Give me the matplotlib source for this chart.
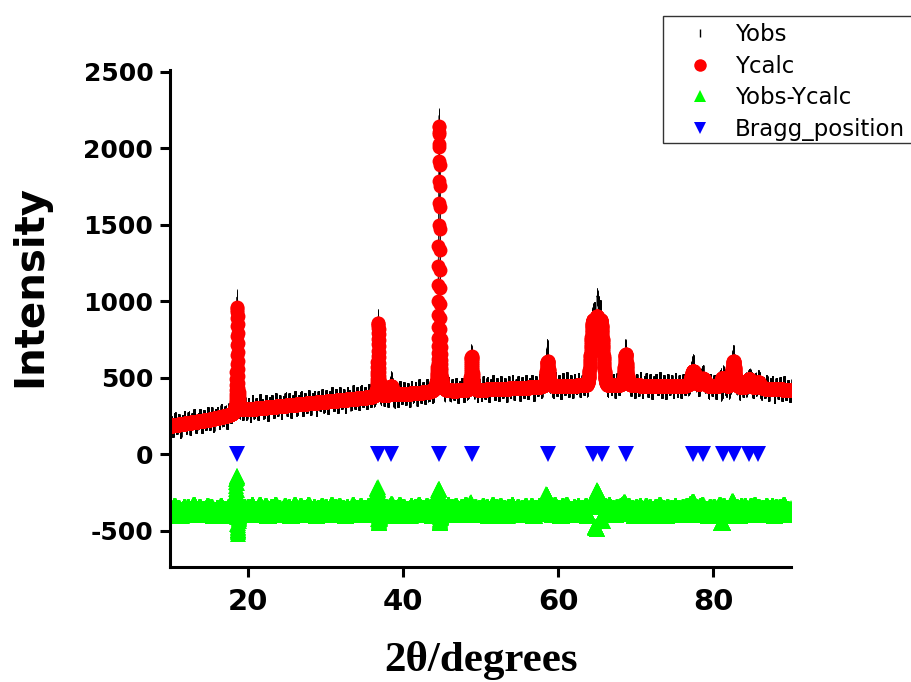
import numpy as np
import matplotlib.pyplot as plt
from matplotlib.lines import Line2D

plt.rcParams['font.family'] = 'DejaVu Sans'
plt.rcParams['axes.unicode_minus'] = False

# background points of the refinement (2theta, counts)
bg_theta = [10, 15, 18, 19.5, 25, 30, 35, 40, 45, 50, 55, 60, 65, 70, 75, 80, 85, 90]
bg_counts = [185, 225, 258, 290, 318, 343, 368, 392, 410, 420, 432, 445, 452, 448, 445, 440, 430, 420]

# calculated reflections: position, height above background, FWHM, lorentzian fraction
peak_pos = [18.67, 36.83, 38.50, 44.68, 48.85, 58.64, 64.45, 65.00, 65.55, 68.70,
            77.40, 78.70, 81.20, 82.60, 84.60, 85.80]
peak_height = [688, 480, 60, 1740, 220, 165, 375, 375, 375, 205,
               100, 50, 60, 170, 60, 40]
peak_fwhm = [0.18, 0.20, 0.30, 0.20, 0.25, 0.35, 0.6, 0.6, 0.6, 0.35,
             0.6, 0.6, 0.5, 0.45, 0.5, 0.5]
peak_eta = [0.5, 0.5, 0.5, 0.5, 0.5, 0.5, 0.0, 0.0, 0.0, 0.5,
            0.5, 0.5, 0.5, 0.5, 0.5, 0.5]

# the same reflections as measured
obs_pos = [18.635, 36.795, 38.50, 44.672, 48.83, 58.61, 64.45, 64.98, 65.55, 68.68,
           77.40, 78.70, 81.20, 82.58, 84.60, 85.80]
obs_height = [740, 510, 75, 1790, 240, 250, 380, 400, 370, 240,
              105, 50, 60, 210, 60, 40]

# Bragg reflection markers
bragg_pos = [18.67, 36.83, 38.50, 44.68, 48.85, 58.64, 64.52, 65.60, 68.68,
             77.40, 78.70, 81.20, 82.60, 84.60, 85.80]

# counting scatter of the measurement, one value per 0.25 deg step from 10 deg
scatter = [
    12, -25, 30, -8, 18, -35, 5, 28, -15, 22, -30, 10, 35, -20, 0, 25, -28, 15, -10, 32,
    -18, 26, -32, 8, 20, -22, 30, -12, 15, -35, 24, -6, 18, 20, 15, -20, 35, -20, 28, -15,
    22, -30, 38, -12, 15, -25, 40, 5, -18, 30, -35, 12, 25, -22, 36, -8, 20, -30, 14, 33,
    -16, 28, -34, 10, 38, -20, 6, 30, -28, 18, -10, 35, -24, 12, 26, -36, 20, -5, 32, -18,
    25, -30, 15, 38, -12, 22, -28, 34, -6, 18, -32, 28, 8, -22, 36, -15, 20, -26, 30, -10,
    18, -25, 32, -14, 24, -20, 25, 10, -20, 30, -18, 26, -30, 20, 30, -35, 20, -28, 35, -10,
    28, -22, 15, -34, 30, -8, 22, -30, 36, -15, 18, -26, 32, -12, 25, -32, 20, -10, 15, -20,
    30, -28, 15, 35, -20, 24, -10, 32, -30, 12, 28, -24, 36, -14, 20, 10, -15, 22, -30, 18,
    -20, 34, -8, 26, -32, 14, 38, -18, 22, -28, 30, -6, 16, -34, 28, -12, 36, -22, 10, 25,
    -30, 20, -15, 32, -25, 12, 30, -36, 18, -8, 28, -24, 22, 30, 10, -20, 25, -28, 34, -12,
    20, -32, 28, -10, 36, -22, 15, -30, 24, -6, 32, -26, 18, -14, 30, -34, 22, 40, 35, -146,
    110, 90, -60, -20, 30, -25, 35, -12, 20, -30, 26, -18, 32, 30, 10, -20, 28, -22, 15, -34,
    24, -16, 34, -28, 10, 30, -20, 26, -36, 14, 22, -10, 38, -26, 18, -32, 28, -6, 20, -24,
    30, -22, 16, -30, 26, -12, 34, -20, 40, 50, -30, 22, -26, 30, 36, -20, 14, -32, 28, -10,
    22, -30, 18, 35, -80, 30, -24, 15, -40, 20, 15, -30, 20, -34, 28, -14, 32, -26, 12, 30,
    -22, 35, -18, 26, -30, 20, -10, 34, -28, 16, 30, -36, 22, -12, 28, -24, 36, -18, 14, -30,
    20,
]
diff_offset = -370

# 2theta grid, 0.0125 deg step
theta = np.linspace(10, 90, 6401)


def pseudo_voigt(x, x0, h, w, eta):
    hw = w / 2
    lor = 1 / (1 + ((x - x0) / hw) ** 2)
    gau = np.exp(-np.log(2) * ((x - x0) / hw) ** 2)
    return h * (eta * lor + (1 - eta) * gau)


background = np.interp(theta, bg_theta, bg_counts)
ycalc = background.copy()
yobs = background + np.repeat(scatter, 20)[:len(theta)]
for i in range(len(peak_pos)):
    ycalc += pseudo_voigt(theta, peak_pos[i], peak_height[i], peak_fwhm[i], peak_eta[i])
    yobs += pseudo_voigt(theta, obs_pos[i], obs_height[i], peak_fwhm[i], peak_eta[i])

ydiff = yobs - ycalc + diff_offset

fig = plt.figure(figsize=(9.11, 6.82), dpi=100)
ax = fig.add_axes([170 / 911, 1 - 567 / 682, 621 / 911, 497 / 682])

ax.plot(theta, yobs, color='black', lw=0.6, marker='|', ms=12, mew=0.6)
ax.plot(theta, ycalc, 'o', color='#ff0000', ms=10, mew=0)
ax.plot(theta, ydiff, '^', color='#00ff00', ms=11, mew=0)
ax.plot(bragg_pos, np.zeros(len(bragg_pos)), 'v', color='#0000ff', ms=11, mew=0)

ax.set_xlim(10, 90)
ax.set_ylim(-737, 2510)
ax.set_xticks([20, 40, 60, 80])
ax.set_yticks([-500, 0, 500, 1000, 1500, 2000, 2500])

for side in ['top', 'right']:
    ax.spines[side].set_visible(False)
for side in ['left', 'bottom']:
    ax.spines[side].set_linewidth(2.2)

ax.tick_params(direction='out', length=7, width=2.2)
ax.tick_params(axis='y', labelsize=18, pad=5)
ax.tick_params(axis='x', labelsize=21, pad=8)
for lab in ax.get_xticklabels() + ax.get_yticklabels():
    lab.set_fontweight('bold')

fig.text(30 / 911, 1 - 286 / 682, 'Intensity', rotation=90, ha='center', va='center',
         fontsize=29, fontweight='bold')
fig.text(480.5 / 911, 11 / 682, '2θ/degrees', ha='center', va='baseline',
         family='Liberation Serif', fontsize=31, fontweight='bold')

handles = [
    Line2D([], [], ls='none', marker='|', color='black', ms=6, mew=1),
    Line2D([], [], ls='none', marker='o', color='#ff0000', ms=9, mew=0),
    Line2D([], [], ls='none', marker='^', color='#00ff00', ms=9, mew=0),
    Line2D([], [], ls='none', marker='v', color='#0000ff', ms=9, mew=0),
]
leg = fig.legend(handles, ['Yobs', 'Ycalc', 'Yobs-Ycalc', 'Bragg_position'],
                 loc='upper left', bbox_to_anchor=(663 / 911, 1 - 16 / 682),
                 bbox_transform=fig.transFigure, borderaxespad=0, fontsize=16.5,
                 frameon=False, borderpad=0.3, handlelength=2.65, handletextpad=0.2,
                 labelspacing=0.38, numpoints=1)

# legend box: open on the right, it runs past the figure edge
box_x = [950 / 911, 663 / 911, 663 / 911, 950 / 911]
box_y = [1 - 16 / 682, 1 - 16 / 682, 1 - 143 / 682, 1 - 143 / 682]
fig.lines.append(Line2D(box_x, box_y, transform=fig.transFigure,
                        color='#333333', lw=1.0, solid_joinstyle='miter'))

fig.savefig('out.png', dpi=100)
